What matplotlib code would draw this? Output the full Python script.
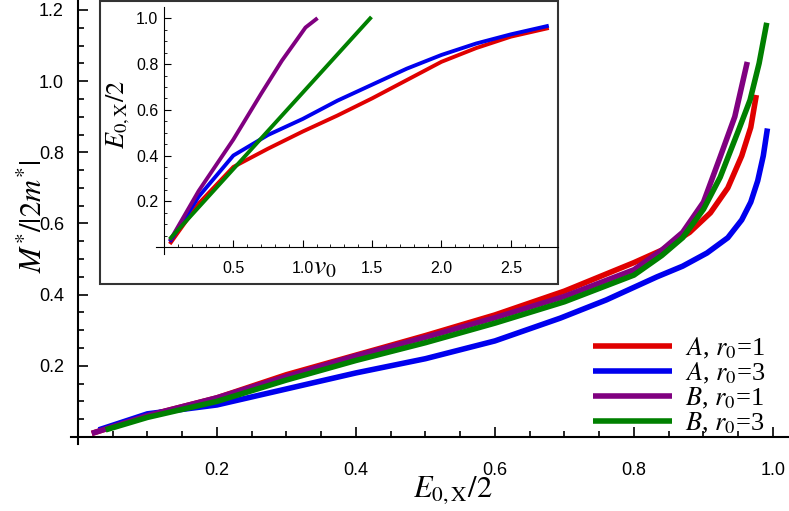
import matplotlib
matplotlib.use("Agg")
import matplotlib.pyplot as plt
from matplotlib.ticker import MultipleLocator, FixedLocator
from matplotlib.patches import Rectangle

plt.rcParams['font.family'] = ['Liberation Sans', 'DejaVu Sans']
plt.rcParams['mathtext.fontset'] = 'stix'

# Main chart data: E_{0,X}/2 vs M*/|2m*|
red_x = [0.02, 0.1, 0.2, 0.3, 0.4, 0.5, 0.6, 0.7, 0.8, 0.84, 0.88, 0.91, 0.935, 0.955, 0.968, 0.976]
red_y = [0.01, 0.06, 0.11, 0.175, 0.23, 0.285, 0.343, 0.41, 0.49, 0.525, 0.575, 0.63, 0.7, 0.79, 0.87, 0.961]
blue_x = [0.03, 0.1, 0.2, 0.3, 0.4, 0.5, 0.6, 0.694, 0.76, 0.833, 0.87, 0.905, 0.935, 0.955, 0.968, 0.978, 0.986, 0.992]
blue_y = [0.02, 0.065, 0.09, 0.135, 0.18, 0.22, 0.27, 0.334, 0.385, 0.45, 0.48, 0.517, 0.56, 0.61, 0.66, 0.72, 0.79, 0.867]
purple_x = [0.02, 0.1, 0.2, 0.3, 0.4, 0.5, 0.6, 0.7, 0.8, 0.84, 0.87, 0.9, 0.924, 0.945, 0.963]
purple_y = [0.01, 0.06, 0.11, 0.17, 0.228, 0.28, 0.335, 0.395, 0.47, 0.525, 0.575, 0.66, 0.787, 0.9, 1.054]
green_x = [0.04, 0.1, 0.2, 0.3, 0.4, 0.5, 0.6, 0.7, 0.8, 0.84, 0.87, 0.9, 0.924, 0.95, 0.967, 0.98, 0.991]
green_y = [0.02, 0.055, 0.1, 0.16, 0.215, 0.265, 0.32, 0.38, 0.455, 0.51, 0.56, 0.64, 0.73, 0.86, 0.947, 1.05, 1.164]

# Inset data: v0 vs E_{0,X}/2
in_purple_x = [0.05, 0.25, 0.5, 0.7, 0.85, 0.95, 1.02, 1.096]
in_purple_y = [0.035, 0.245, 0.47, 0.67, 0.815, 0.9, 0.96, 0.996]
in_green_x = [0.05, 1.486]
in_green_y = [0.04, 1.0]
in_blue_x = [0.05, 0.25, 0.5, 0.75, 1.0, 1.25, 1.5, 1.75, 2.0, 2.25, 2.5, 2.76]
in_blue_y = [0.03, 0.22, 0.40, 0.49, 0.56, 0.64, 0.71, 0.78, 0.84, 0.89, 0.93, 0.966]
in_red_x = [0.05, 0.25, 0.5, 0.75, 1.0, 1.25, 1.5, 1.75, 2.0, 2.25, 2.5, 2.76]
in_red_y = [0.02, 0.19, 0.35, 0.43, 0.505, 0.575, 0.65, 0.73, 0.81, 0.87, 0.92, 0.956]

labels = [r'$A$, $r_0$=1', r'$A$, $r_0$=3', r'$B$, $r_0$=1', r'$B$, $r_0$=3']
colors = ['#e00000', '#0000ee', '#800080', '#008000']

fig = plt.figure(figsize=(7.89, 5.11), dpi=100)
ax = fig.add_axes([0, 0, 1, 1])
ax.set_xlim(-0.112, 1.023)
ax.set_ylim(-0.208, 1.228)
for s in ['top', 'right']:
    ax.spines[s].set_visible(False)
ax.spines['left'].set_position(('data', 0))
ax.spines['bottom'].set_position(('data', 0))
ax.spines['left'].set_bounds(-0.02, 1.228)
ax.spines['bottom'].set_bounds(-0.01, 1.023)
ax.patch.set_visible(False)

series = [(red_x, red_y), (blue_x, blue_y), (purple_x, purple_y), (green_x, green_y)]
for (x, y), c, l in zip(series, colors, labels):
    ax.plot(x, y, color=c, lw=4, label=l, solid_capstyle='butt')

ax.xaxis.set_major_locator(FixedLocator([0.2, 0.4, 0.6, 0.8, 1.0]))
ax.xaxis.set_minor_locator(FixedLocator([i * 0.05 for i in range(1, 21)]))
ax.yaxis.set_major_locator(FixedLocator([0.2, 0.4, 0.6, 0.8, 1.0, 1.2]))
ax.yaxis.set_minor_locator(FixedLocator([i * 0.05 for i in range(1, 25)]))
ax.tick_params(which='both', direction='in', labelsize=13, width=1.2)
ax.tick_params(which='major', length=7)
ax.tick_params(which='minor', length=4)
ax.tick_params(axis='x', pad=18)
ax.tick_params(axis='y', pad=10)
for s in ['left', 'bottom']:
    ax.spines[s].set_linewidth(1.5)

ax.text(0.54, -0.15, r'$E_{0,\mathrm{X}}/2$', fontsize=22, ha='center', va='center')
ax.text(-0.063, 0.62, r'$M^{*}/|2m^{*}|$', fontsize=22, ha='center', va='center', rotation=90)

leg = ax.legend(loc='lower right', bbox_to_anchor=(1.0, 0.1), frameon=False,
                handlelength=3.0, labelspacing=0.0, handletextpad=0.5,
                prop={'family': 'Liberation Serif', 'size': 19})

# Inset
axin = fig.add_axes([100 / 789, 1 - 284 / 511, 458 / 789, 283 / 511])
axin.set_xlim(-0.461, 2.84)
axin.set_ylim(-0.162, 1.076)
for s in ['top', 'right']:
    axin.spines[s].set_visible(False)
axin.spines['left'].set_position(('data', 0))
axin.spines['bottom'].set_position(('data', 0))
axin.spines['left'].set_bounds(-0.03, 1.05)
axin.spines['bottom'].set_bounds(-0.06, 2.84)
axin.add_patch(Rectangle((0, 0), 1, 1, transform=axin.transAxes, fill=False,
                         edgecolor='#333333', lw=1.5, clip_on=False))
inset_series = [(in_red_x, in_red_y), (in_blue_x, in_blue_y),
                (in_purple_x, in_purple_y), (in_green_x, in_green_y)]
for (x, y), c in zip(inset_series, colors):
    axin.plot(x, y, color=c, lw=2.8)
axin.xaxis.set_major_locator(FixedLocator([0.5, 1.0, 1.5, 2.0, 2.5]))
axin.xaxis.set_minor_locator(FixedLocator([i * 0.1 for i in range(1, 28)]))
axin.yaxis.set_major_locator(FixedLocator([0.2, 0.4, 0.6, 0.8, 1.0]))
axin.yaxis.set_minor_locator(FixedLocator([i * 0.05 for i in range(1, 21)]))
axin.tick_params(which='both', direction='in', labelsize=11.5)
axin.tick_params(which='major', length=5)
axin.tick_params(which='minor', length=2.5)
axin.tick_params(axis='x', pad=10)
axin.tick_params(axis='y', pad=4)
axin.text(1.16, -0.09, r'$v_0$', fontsize=20, ha='center', va='center')
axin.text(-0.33, 0.58, r'$E_{0,\mathrm{X}}/2$', fontsize=19, ha='center', va='center', rotation=90)

fig.savefig('out.png', dpi=100)
